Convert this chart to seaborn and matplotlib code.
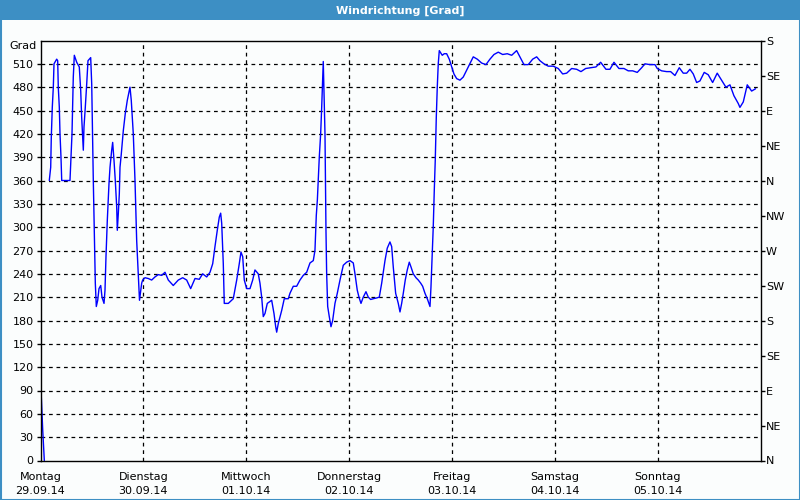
import numpy as np
import pandas as pd
import matplotlib
matplotlib.use("Agg")
import matplotlib.pyplot as plt
import seaborn as sns
from matplotlib.patches import Rectangle

# ---------------- data ----------------
# hours since Monday 29.09.14 00:00, wind direction in extended degrees
seg1_hours = [0.05, 0.28, 0.51, 0.89]
seg1_grad = [100, 70, 40, 0]

seg2_hours = [2.05, 2.38, 2.52, 2.75, 2.99, 3.15, 3.78, 4.01, 4.15, 4.39, 4.55, 4.78, 4.95,
              6.88, 7.12, 7.35, 7.51, 7.65, 7.89, 8.45, 9.05, 9.38, 9.61, 9.85, 9.99, 10.15,
              10.45, 10.78, 11.08, 11.71, 11.95, 12.32, 12.55, 12.79, 13.02, 13.35, 13.65,
              14.05, 14.35, 14.82, 15.05, 15.28, 15.59, 15.98, 16.22, 16.61, 16.84, 17.15,
              17.45, 17.78, 17.92, 18.15, 18.39, 18.55, 18.85, 19.32, 19.78, 20.25, 20.88,
              21.18, 21.65, 22.05, 22.44, 22.82, 23.1, 23.61, 23.84, 24.38, 25.15, 25.94,
              26.71, 27.48, 28.28, 29.05, 29.82, 30.98, 32.15, 33.18, 34.11, 35.04, 36.05,
              37.05, 37.84, 38.78, 39.55, 40.18, 40.71, 41.25, 41.72, 42.04, 42.28, 42.65,
              42.88, 43.82, 44.98, 45.78, 46.38, 46.78, 47.18, 47.55, 48.11, 48.88, 49.51,
              50.04, 50.81, 51.21, 51.61, 51.98, 52.38, 52.92, 53.94, 54.48, 54.88, 55.11,
              55.48, 56.28, 56.88, 57.82, 58.21, 58.98, 59.77, 60.54, 61.31, 62.11, 62.88,
              63.65, 64.04, 64.35, 64.6, 65.05, 65.37, 65.61, 65.84, 65.98, 66.14, 66.38,
              66.61, 66.77, 67.01, 67.38, 67.78, 68.17, 68.71, 69.25, 69.88, 70.65, 71.44,
              72.21, 72.98, 73.38, 73.91, 74.31, 74.78, 75.31, 75.94, 76.48, 77.04, 77.65,
              78.44, 79.05, 79.61, 80.38, 80.91, 81.54, 81.94, 82.31, 82.87, 83.48, 83.88,
              84.27, 84.65, 85.11, 85.58, 86.05, 86.44, 86.98, 87.61, 88.15, 88.71, 89.17,
              89.71, 90.25, 90.88, 91.11, 91.34, 91.64, 91.88, 92.11, 92.35, 92.58, 92.81,
              93.05, 93.74, 94.21, 94.77, 95.38, 95.94, 96.47, 97.1, 97.87, 98.64, 99.81,
              100.98, 101.91, 102.94, 103.94, 104.87, 105.81, 106.81, 107.84, 108.91, 109.94,
              111.1, 111.87, 112.81, 113.81, 114.84, 115.77, 116.54, 117.47, 118.48, 119.64,
              120.81, 121.84, 122.77, 123.94, 125.1, 126.11, 127.2, 128.37, 129.6, 130.7,
              131.94, 132.87, 133.81, 134.97, 136.14, 137.14, 138.17, 139.24, 140.27, 141.04,
              142.2, 143.37, 143.91, 144.93, 146.1, 147.03, 148.04, 149.04, 149.97, 150.77,
              151.54, 152.31, 153.1, 153.87, 154.87, 155.8, 156.83, 157.9, 158.93, 159.93,
              160.87, 161.8, 162.81, 163.2, 163.98, 164.91, 165.93, 166.86]
seg2_grad = [360, 377, 416, 454, 480, 510, 516, 514, 480, 454, 420, 390, 360,
             360, 390, 420, 459, 493, 521, 512, 506, 476, 441, 416, 399, 429,
             454, 484, 514, 518, 484, 360, 296, 228, 198, 206, 221,
             225, 210, 202, 219, 262, 309, 356, 377, 399, 409, 386,
             360, 326, 296, 317, 343, 377, 394, 424, 446, 463, 480,
             463, 420, 360, 283, 240, 206, 228, 232, 235, 234, 232,
             236, 239, 238, 242, 232, 225, 232, 235, 232, 221, 234,
             233, 240, 236, 242, 253, 275, 296, 313, 318, 305, 253,
             202, 202, 208, 232, 253, 268, 262, 232, 221, 221, 232,
             245, 240, 228, 210, 185, 189, 202, 206, 189, 172, 165,
             176, 193, 208, 208, 215, 224, 224, 232, 238, 242, 254,
             257, 270, 315, 335, 390, 420, 454, 493, 513, 476, 420,
             296, 240, 198, 185, 172, 180, 202, 215, 232, 251, 255,
             257, 254, 240, 219, 210, 202, 210, 217, 210, 207, 208,
             209, 210, 228, 257, 273, 281, 275, 249, 215, 202, 191,
             202, 215, 232, 245, 255, 249, 240, 235, 232, 228, 224,
             215, 208, 198, 223, 257, 300, 347, 386, 441, 480, 510,
             527, 521, 523, 523, 516, 506, 497, 491, 489, 493, 506,
             519, 516, 511, 509, 516, 522, 525, 522, 523, 521,
             527, 519, 509, 509, 516, 519, 514, 510, 507, 507,
             504, 497, 498, 504, 503, 500, 504, 505, 506, 512,
             503, 503, 512, 504, 504, 501, 501, 499, 505, 510,
             509, 509, 504, 501, 500, 500, 495, 505, 498, 498,
             503, 497, 486, 488, 499, 496, 486, 498, 489, 480,
             483, 469, 459, 454, 461, 483, 475, 478]

day_names = ["Montag", "Dienstag", "Mittwoch", "Donnerstag", "Freitag", "Samstag", "Sonntag"]
day_dates = ["29.09.14", "30.09.14", "01.10.14", "02.10.14", "03.10.14", "04.10.14", "05.10.14"]
grad_ticks = list(range(0, 511, 30))
compass_ticks = list(range(0, 541, 45))
compass_labels = ["N", "NE", "E", "SE", "S", "SW", "W", "NW", "N", "NE", "E", "SE", "S"]
title = "Windrichtung [Grad]"

df = pd.DataFrame({
    "hours": seg1_hours + seg2_hours,
    "grad": seg1_grad + seg2_grad,
    "segment": [1] * len(seg1_hours) + [2] * len(seg2_hours),
})

# ---------------- figure ----------------
sns.set_theme(style="white")
plt.rcParams["font.family"] = ["DejaVu Sans"]
bg = "#FBFDFD"
fig = plt.figure(figsize=(8, 5), dpi=100, facecolor=bg)
ax = fig.add_axes([40.5 / 800, 1 - 460.5 / 500, 720 / 800, 420 / 500])
ax.set_facecolor(bg)

sns.lineplot(data=df, x="hours", y="grad", units="segment", estimator=None,
             color="#0000FF", linewidth=1.0, ax=ax, sort=False)

ax.set_xlim(0, 168)
ax.set_ylim(0, 540)
ax.set_xlabel("")
ax.set_ylabel("")

ax.set_yticks(grad_ticks)
ax.set_yticklabels([str(v) for v in grad_ticks])
ax.set_xticks([24 * i for i in range(7)])
ax.set_xticklabels([f"{n}\n{d}" for n, d in zip(day_names, day_dates)], linespacing=1.55)
ax.tick_params(axis="both", which="both", length=3, width=1, color="black",
               labelsize=8, labelcolor="black", direction="out")
ax.tick_params(axis="y", pad=2)
ax.tick_params(axis="x", pad=5)

for s in ax.spines.values():
    s.set_visible(True)
    s.set_color("black")
    s.set_linewidth(1.0)

dash = (0, (3, 3))
for y in grad_ticks[1:]:
    ax.axhline(y, color="black", lw=0.9, ls=dash, zorder=0.5)
for i in range(1, 7):
    ax.axvline(24 * i, color="black", lw=0.9, ls=dash, zorder=0.5)

ax2 = ax.twinx()
ax2.set_ylim(0, 540)
ax2.set_yticks(compass_ticks)
ax2.set_yticklabels(compass_labels)
ax2.tick_params(axis="y", length=3, width=1, color="black", labelsize=8,
                labelcolor="black", pad=1, direction="out")
for s in ax2.spines.values():
    s.set_visible(False)
ax2.grid(False)

fig.text(37 / 800, 1 - 46 / 500, "Grad", ha="right", va="center", fontsize=8, color="black")

# title bar and frame
fig.patches.append(Rectangle((0, 1 - 20 / 500), 1, 20 / 500, transform=fig.transFigure,
                             facecolor="#3D8FC4", edgecolor="none", zorder=0))
fig.text(0.5, 1 - 10.5 / 500, title, ha="center", va="center", fontsize=8,
         fontweight="bold", color="white")
fig.patches.append(Rectangle((0.5 / 800, 0.5 / 500), 799 / 800, 499 / 500,
                             transform=fig.transFigure, facecolor="none",
                             edgecolor="#3D8FC4", linewidth=1.5, zorder=10))

fig.savefig("out.png", dpi=100, facecolor=bg)
